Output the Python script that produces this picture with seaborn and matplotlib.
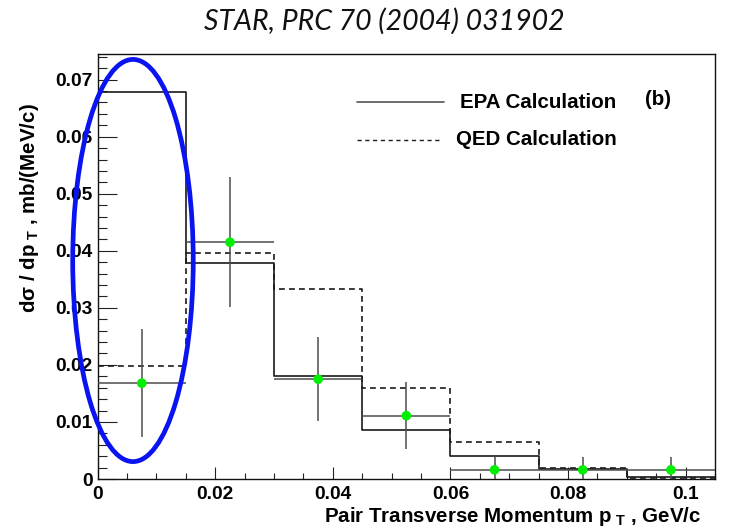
import numpy as np
import pandas as pd
import matplotlib
matplotlib.use("Agg")
import matplotlib.pyplot as plt
from matplotlib.patches import Ellipse
from matplotlib.lines import Line2D
from matplotlib.ticker import MultipleLocator, FuncFormatter
import seaborn as sns

# Bin edges in pair transverse momentum (GeV/c)
bin_edges = [0.0, 0.015, 0.03, 0.045, 0.06, 0.075, 0.09, 0.105]
bin_centers = [0.0075, 0.0225, 0.0375, 0.0525, 0.0675, 0.0825, 0.0975]

# Calculated spectra, mb/(MeV/c)
epa_values = [0.0678, 0.0379, 0.0181, 0.0086, 0.0041, 0.0017, 0.0004]
qed_values = [0.0198, 0.0397, 0.0333, 0.0159, 0.0064, 0.0019, 0.0002]

# Measured points with uncertainties
data_values = [0.0168, 0.0415, 0.0175, 0.0111, 0.0016, 0.0016, 0.0016]
data_errors = [0.0095, 0.0114, 0.0074, 0.0059, 0.0022, 0.0022, 0.0022]
bin_half_width = 0.0075

sns.set_style("white")
plt.rcParams["font.family"] = ["Liberation Sans", "DejaVu Sans"]
plt.rcParams["font.weight"] = "bold"
plt.rcParams["text.color"] = "black"
plt.rcParams["mathtext.fontset"] = "custom"
plt.rcParams["mathtext.rm"] = "Liberation Sans:bold"
plt.rcParams["mathtext.it"] = "Liberation Sans:bold"
plt.rcParams["mathtext.bf"] = "Liberation Sans:bold"
plt.rcParams["mathtext.default"] = "rm"

W, H = 737, 530
fig = plt.figure(figsize=(W / 100, H / 100), dpi=100)
x0, x1, y0, y1 = 97.7, 715, 54, 479
ax = fig.add_axes([x0 / W, 1 - y1 / H, (x1 - x0) / W, (y1 - y0) / H])

df = pd.DataFrame({"pt": bin_centers, "epa": epa_values, "qed": qed_values,
                   "data": data_values, "err": data_errors})

sns.histplot(data=df, x="pt", weights="epa", bins=bin_edges, element="step",
             fill=False, color="#1a1a1a", linewidth=1.2, ax=ax)
sns.histplot(data=df, x="pt", weights="qed", bins=bin_edges, element="step",
             fill=False, color="#1a1a1a", linewidth=1.2, linestyle=(0, (3.5, 2.5)),
             ax=ax)

ax.errorbar(df["pt"], df["data"], xerr=bin_half_width, yerr=df["err"],
            fmt="none", ecolor="#4d4d4d", elinewidth=1.1, capsize=0, zorder=3)
sns.scatterplot(data=df, x="pt", y="data", color="#00ee00", s=48,
                edgecolor="none", zorder=4, ax=ax)

ax.set_xlim(0, 0.105)
ax.set_ylim(0, 0.0745)

# Highlight of the lowest-momentum bin
ax.add_patch(Ellipse((0.0060, 0.0383), 0.0205, 0.0705, fill=False,
                     edgecolor="#0a14f0", linewidth=3.4, clip_on=False, zorder=6))

# Axis ticks, drawn inward on the left and bottom axes
ax.xaxis.set_major_locator(MultipleLocator(0.02))
ax.xaxis.set_minor_locator(MultipleLocator(0.005))
ax.yaxis.set_major_locator(MultipleLocator(0.01))
ax.yaxis.set_minor_locator(MultipleLocator(0.002))
fmt = FuncFormatter(lambda v, p: f"{v:.2f}".rstrip("0").rstrip(".") if v != 0 else "0")
ax.xaxis.set_major_formatter(fmt)
ax.yaxis.set_major_formatter(fmt)
ax.tick_params(axis="both", which="both", direction="in", top=False, right=False,
               left=True, bottom=True, color="#222222", width=0.8,
               labelsize=13.8, labelcolor="black")
ax.tick_params(axis="y", which="major", length=13.5, pad=3.5)
ax.tick_params(axis="y", which="minor", length=6.5)
ax.tick_params(axis="x", which="major", length=8.5, pad=5)
ax.tick_params(axis="x", which="minor", length=4.3)
for lbl in ax.get_xticklabels() + ax.get_yticklabels():
    lbl.set_fontweight("bold")
for s in ax.spines.values():
    s.set_color("#111111")
    s.set_linewidth(1.0)

ax.set_xlabel("")
ax.set_ylabel("")
fig.text(701 / W, 1 - 517 / H, r"Pair Transverse Momentum p$_{\ T}$ , GeV/c",
         ha="right", va="center", fontsize=14.8, fontweight="bold")
fig.text(30 / W, 1 - 208 / H, r"d$\sigma$ / dp$_{\ T}$ , mb/(MeV/c)",
         ha="center", va="center", rotation=90, fontsize=14.8, fontweight="bold")

# Legend
ax.add_line(Line2D([0.42, 0.561], [0.887, 0.887], transform=ax.transAxes,
                   color="#555555", linewidth=1.2))
ax.add_line(Line2D([0.42, 0.555], [0.798, 0.798], transform=ax.transAxes,
                   color="#1a1a1a", linewidth=1.0, linestyle=(0, (3, 2.6))))
ax.text(0.587, 0.887, "EPA Calculation", transform=ax.transAxes, ha="left",
        va="center", fontsize=14.8, fontweight="bold")
ax.text(0.580, 0.798, "QED Calculation", transform=ax.transAxes, ha="left",
        va="center", fontsize=14.8, fontweight="bold")
ax.text(0.887, 0.893, "(b)", transform=ax.transAxes, ha="left",
        va="center", fontsize=14.8, fontweight="bold")

fig.text(384 / W, 1 - 21 / H, "STAR, PRC 70 (2004) 031902", ha="center",
         va="center", fontsize=20.5, fontstyle="italic", fontweight="normal",
         family=["Lato", "DejaVu Sans"], color="#111111")

fig.savefig("out.png", dpi=100)
